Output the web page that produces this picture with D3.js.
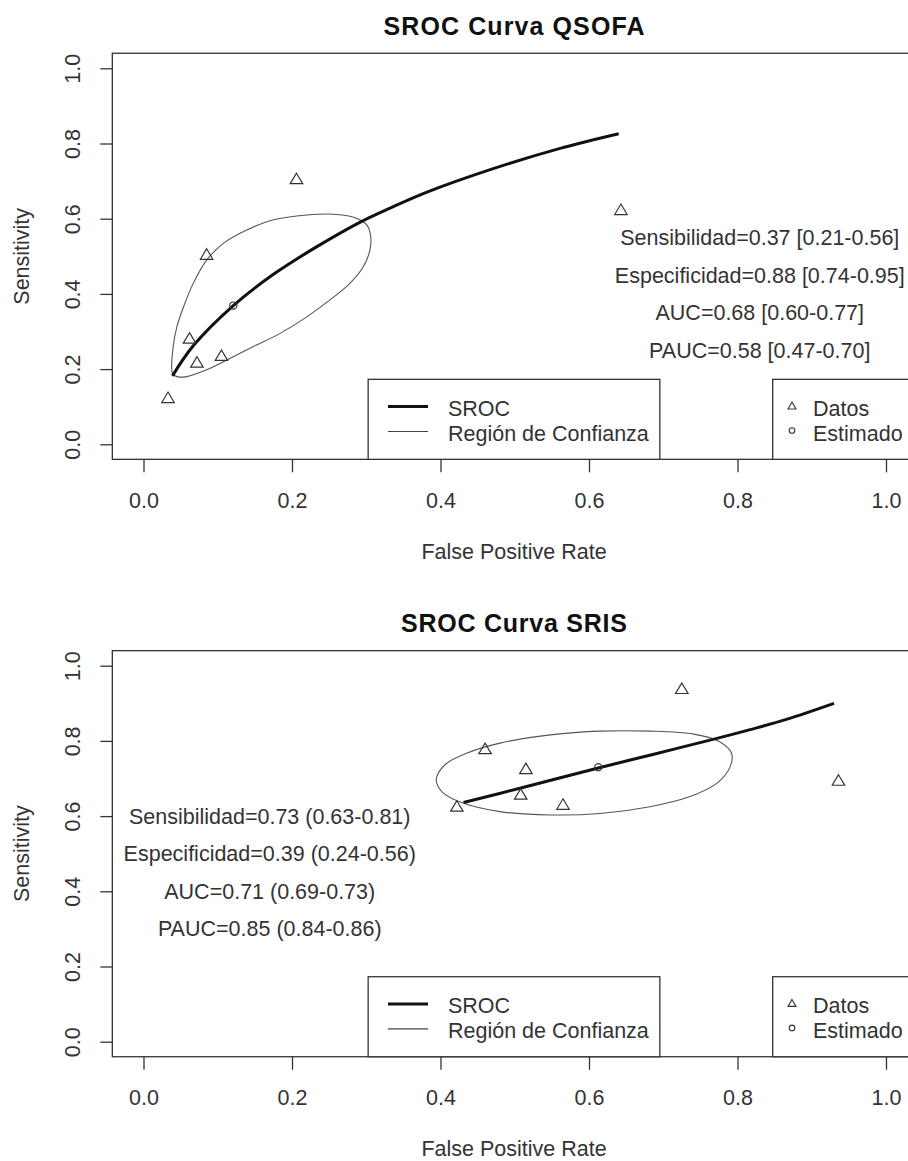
<!DOCTYPE html>
<html>
<head>
<meta charset="utf-8">
<script src="https://cdn.jsdelivr.net/npm/d3@7"></script>
<style>
  html, body { margin: 0; padding: 0; background: #fff; }
  svg { display: block; }
  text { font-family: "Liberation Sans", Arial, sans-serif; }
</style>
</head>
<body>
<script>
// ---------------- DATA ----------------
const xTickValues = [0, 0.2, 0.4, 0.6, 0.8, 1.0];
const yTickValues = [0, 0.2, 0.4, 0.6, 0.8, 1.0];
const xAxisTitle = "False Positive Rate";
const yAxisTitle = "Sensitivity";
const legendLineLabels = ["SROC", "Región de Confianza"];
const legendPointLabels = ["Datos", "Estimado"];

// Panel 1: QSOFA
const qsofaTitle = "SROC Curva QSOFA";
const qsofaStudyFPR  = [0.206, 0.085, 0.643, 0.062, 0.072, 0.105, 0.033];
const qsofaStudySens = [0.707, 0.506, 0.625, 0.283, 0.219, 0.237, 0.125];
const qsofaEstFPR = [0.121];
const qsofaEstSens = [0.369];
const qsofaSrocFPR  = [0.039, 0.067, 0.121, 0.175, 0.233, 0.292, 0.332, 0.381, 0.471, 0.561, 0.640];
const qsofaSrocSens = [0.182, 0.262, 0.369, 0.452, 0.525, 0.591, 0.628, 0.670, 0.733, 0.787, 0.826];
const qsofaEllFPR  = [0.039, 0.040, 0.045, 0.054, 0.067, 0.085, 0.108, 0.139, 0.175, 0.220, 0.256, 0.283, 0.301, 0.306, 0.305, 0.296, 0.278, 0.251, 0.220, 0.184, 0.148, 0.117, 0.085, 0.058, 0.045];
const qsofaEllSens = [0.189, 0.260, 0.313, 0.366, 0.428, 0.490, 0.535, 0.570, 0.597, 0.610, 0.612, 0.604, 0.583, 0.552, 0.517, 0.472, 0.428, 0.384, 0.339, 0.295, 0.260, 0.229, 0.198, 0.180, 0.180];
const qsofaStats = ["Sensibilidad=0.37 [0.21-0.56]", "Especificidad=0.88 [0.74-0.95]", "AUC=0.68 [0.60-0.77]", "PAUC=0.58 [0.47-0.70]"];
const qsofaStatsX = 0.83;
const qsofaStatsY = [0.55, 0.45, 0.35, 0.25];

// Panel 2: SRIS
const srisTitle = "SROC Curva SRIS";
const srisStudyFPR  = [0.725, 0.460, 0.515, 0.508, 0.565, 0.422, 0.936];
const srisStudySens = [0.940, 0.780, 0.727, 0.659, 0.632, 0.627, 0.696];
const srisEstFPR = [0.6125];
const srisEstSens = [0.730];
const srisSrocFPR  = [0.431, 0.507, 0.6125, 0.690, 0.767, 0.817, 0.867, 0.930];
const srisSrocSens = [0.636, 0.674, 0.728, 0.766, 0.804, 0.830, 0.858, 0.900];
const srisEllFPR  = [0.395, 0.408, 0.435, 0.480, 0.548, 0.615, 0.682, 0.741, 0.776, 0.792, 0.790, 0.772, 0.736, 0.682, 0.615, 0.548, 0.480, 0.431, 0.404, 0.395];
const srisEllSens = [0.705, 0.740, 0.767, 0.794, 0.816, 0.826, 0.826, 0.818, 0.798, 0.767, 0.731, 0.687, 0.652, 0.625, 0.607, 0.603, 0.612, 0.634, 0.661, 0.687];
const srisStats = ["Sensibilidad=0.73 (0.63-0.81)", "Especificidad=0.39 (0.24-0.56)", "AUC=0.71 (0.69-0.73)", "PAUC=0.85 (0.84-0.86)"];
const srisStatsX = 0.17;
const srisStatsY = [0.6, 0.5, 0.4, 0.3];

// ---------------- DRAW ----------------
const W = 908, H = 1161;
const svg = d3.select("body").append("svg").attr("width", W).attr("height", H)
  .style("background", "#fff");

const x = d3.scaleLinear().domain([0, 1]).range([143.5, 886]);
const y = d3.scaleLinear().domain([0, 1]).range([444.3, 68.3]);
const fmt = d3.format(".1f");
const ink = "#333";
const fs = 21.5;

const bx0 = x(-0.042), bx1 = x(1.04), by0 = y(1.04), by1 = y(-0.04);
const cx = (bx0 + bx1) / 2;

function triPath(w, h) {
  return `M0,${-h/2}L${w/2},${h/2}L${-w/2},${h/2}Z`;
}

function drawPanel(offsetY, p) {
  const g = svg.append("g").attr("transform", `translate(0,${offsetY})`);

  // title
  g.append("text").attr("x", cx).attr("y", 35)
    .attr("text-anchor", "middle").attr("font-size", 25).attr("font-weight", "bold")
    .attr("fill", "#111").attr("textLength", p.titleLen).attr("lengthAdjust", "spacing")
    .text(p.title);

  // box
  g.append("rect").attr("x", bx0).attr("y", by0).attr("width", bx1 - bx0).attr("height", by1 - by0)
    .attr("fill", "none").attr("stroke", ink).attr("stroke-width", 1.3);

  // x axis
  const xa = g.append("g").attr("transform", `translate(0,${by1})`)
    .call(d3.axisBottom(x).tickValues(xTickValues).tickSize(13).tickFormat(fmt));
  xa.select(".domain").remove();
  xa.selectAll(".tick line").attr("stroke", ink).attr("stroke-width", 1.3);
  xa.selectAll(".tick text").attr("y", 48.5).attr("dy", null)
    .attr("font-size", fs).attr("font-family", "Liberation Sans, Arial, sans-serif").attr("fill", ink);

  // y axis
  const ya = g.append("g").attr("transform", `translate(${bx0},0)`)
    .call(d3.axisLeft(y).tickValues(yTickValues).tickSize(12).tickFormat(fmt));
  ya.select(".domain").remove();
  ya.selectAll(".tick line").attr("stroke", ink).attr("stroke-width", 1.3);
  ya.selectAll(".tick text").attr("x", null).attr("dy", null).attr("y", null)
    .attr("transform", "translate(-32,0) rotate(-90)").attr("text-anchor", "middle")
    .attr("font-size", fs).attr("font-family", "Liberation Sans, Arial, sans-serif").attr("fill", ink);

  // axis titles
  g.append("text").attr("x", cx).attr("y", 558.5).attr("text-anchor", "middle")
    .attr("font-size", fs).attr("fill", ink).text(xAxisTitle);
  g.append("text").attr("transform", `translate(29,${(by0 + by1) / 2}) rotate(-90)`)
    .attr("text-anchor", "middle").attr("font-size", fs).attr("fill", ink).text(yAxisTitle);

  // ellipse (confidence region)
  const ell = p.ellX.map((d, i) => [d, p.ellY[i]]);
  g.append("path").datum(ell)
    .attr("d", d3.line().x(d => x(d[0])).y(d => y(d[1])).curve(d3.curveCatmullRomClosed.alpha(0.5)))
    .attr("fill", "none").attr("stroke", "#555").attr("stroke-width", 1.1);

  // SROC curve
  const sroc = p.srocX.map((d, i) => [d, p.srocY[i]]);
  g.append("path").datum(sroc)
    .attr("d", d3.line().x(d => x(d[0])).y(d => y(d[1])).curve(d3.curveCatmullRom.alpha(0.5)))
    .attr("fill", "none").attr("stroke", "#111").attr("stroke-width", 3);

  // study points
  const pts = p.studyX.map((d, i) => [d, p.studyY[i]]);
  g.selectAll(".tri").data(pts).enter().append("path")
    .attr("transform", d => `translate(${x(d[0])},${y(d[1])})`)
    .attr("d", triPath(12.5, 10.5))
    .attr("fill", "none").attr("stroke", ink).attr("stroke-width", 1.2);

  // estimate
  const est = p.estX.map((d, i) => [d, p.estY[i]]);
  g.selectAll(".est").data(est).enter().append("circle")
    .attr("cx", d => x(d[0])).attr("cy", d => y(d[1])).attr("r", 3.6)
    .attr("fill", "none").attr("stroke", ink).attr("stroke-width", 1.1);

  // stats text
  p.stats.forEach((s, i) => {
    g.append("text").attr("x", x(p.statsX)).attr("y", y(p.statsY[i])).attr("dy", "0.35em")
      .attr("text-anchor", "middle").attr("font-size", fs).attr("fill", ink).text(s);
  });

  // legend 1 (lines), centered at bottom
  const l1w = 291.7, l1h = 80;
  g.append("rect").attr("x", cx - l1w / 2).attr("y", by1 - l1h).attr("width", l1w).attr("height", l1h)
    .attr("fill", "#fff").attr("stroke", ink).attr("stroke-width", 1.3);
  const lineY = [406.5, 431.5];
  const lineW = [3, 1.1];
  legendLineLabels.forEach((lab, i) => {
    g.append("line").attr("x1", 388).attr("x2", 428).attr("y1", lineY[i]).attr("y2", lineY[i])
      .attr("stroke", i === 0 ? "#111" : "#444").attr("stroke-width", lineW[i]);
    g.append("text").attr("x", 448).attr("y", lineY[i] + 9.5).attr("font-size", fs).attr("fill", ink).text(lab);
  });

  // legend 2 (points), bottom right
  g.append("rect").attr("x", 772.7).attr("y", by1 - l1h).attr("width", bx1 - 772.7).attr("height", l1h)
    .attr("fill", "#fff").attr("stroke", ink).attr("stroke-width", 1.3);
  g.append("path").attr("transform", `translate(792,${lineY[0] - 1})`).attr("d", triPath(8, 7))
    .attr("fill", "none").attr("stroke", ink).attr("stroke-width", 1.1);
  g.append("circle").attr("cx", 792).attr("cy", lineY[1] - 1).attr("r", 2.8)
    .attr("fill", "none").attr("stroke", ink).attr("stroke-width", 1.1);
  legendPointLabels.forEach((lab, i) => {
    g.append("text").attr("x", 813).attr("y", lineY[i] + 9.5).attr("font-size", fs).attr("fill", ink).text(lab);
  });
}

drawPanel(0, {
  title: qsofaTitle, titleLen: 261,
  studyX: qsofaStudyFPR, studyY: qsofaStudySens,
  estX: qsofaEstFPR, estY: qsofaEstSens,
  srocX: qsofaSrocFPR, srocY: qsofaSrocSens,
  ellX: qsofaEllFPR, ellY: qsofaEllSens,
  stats: qsofaStats, statsX: qsofaStatsX, statsY: qsofaStatsY
});

drawPanel(597.4, {
  title: srisTitle, titleLen: 226,
  studyX: srisStudyFPR, studyY: srisStudySens,
  estX: srisEstFPR, estY: srisEstSens,
  srocX: srisSrocFPR, srocY: srisSrocSens,
  ellX: srisEllFPR, ellY: srisEllSens,
  stats: srisStats, statsX: srisStatsX, statsY: srisStatsY
});
</script>
</body>
</html>
